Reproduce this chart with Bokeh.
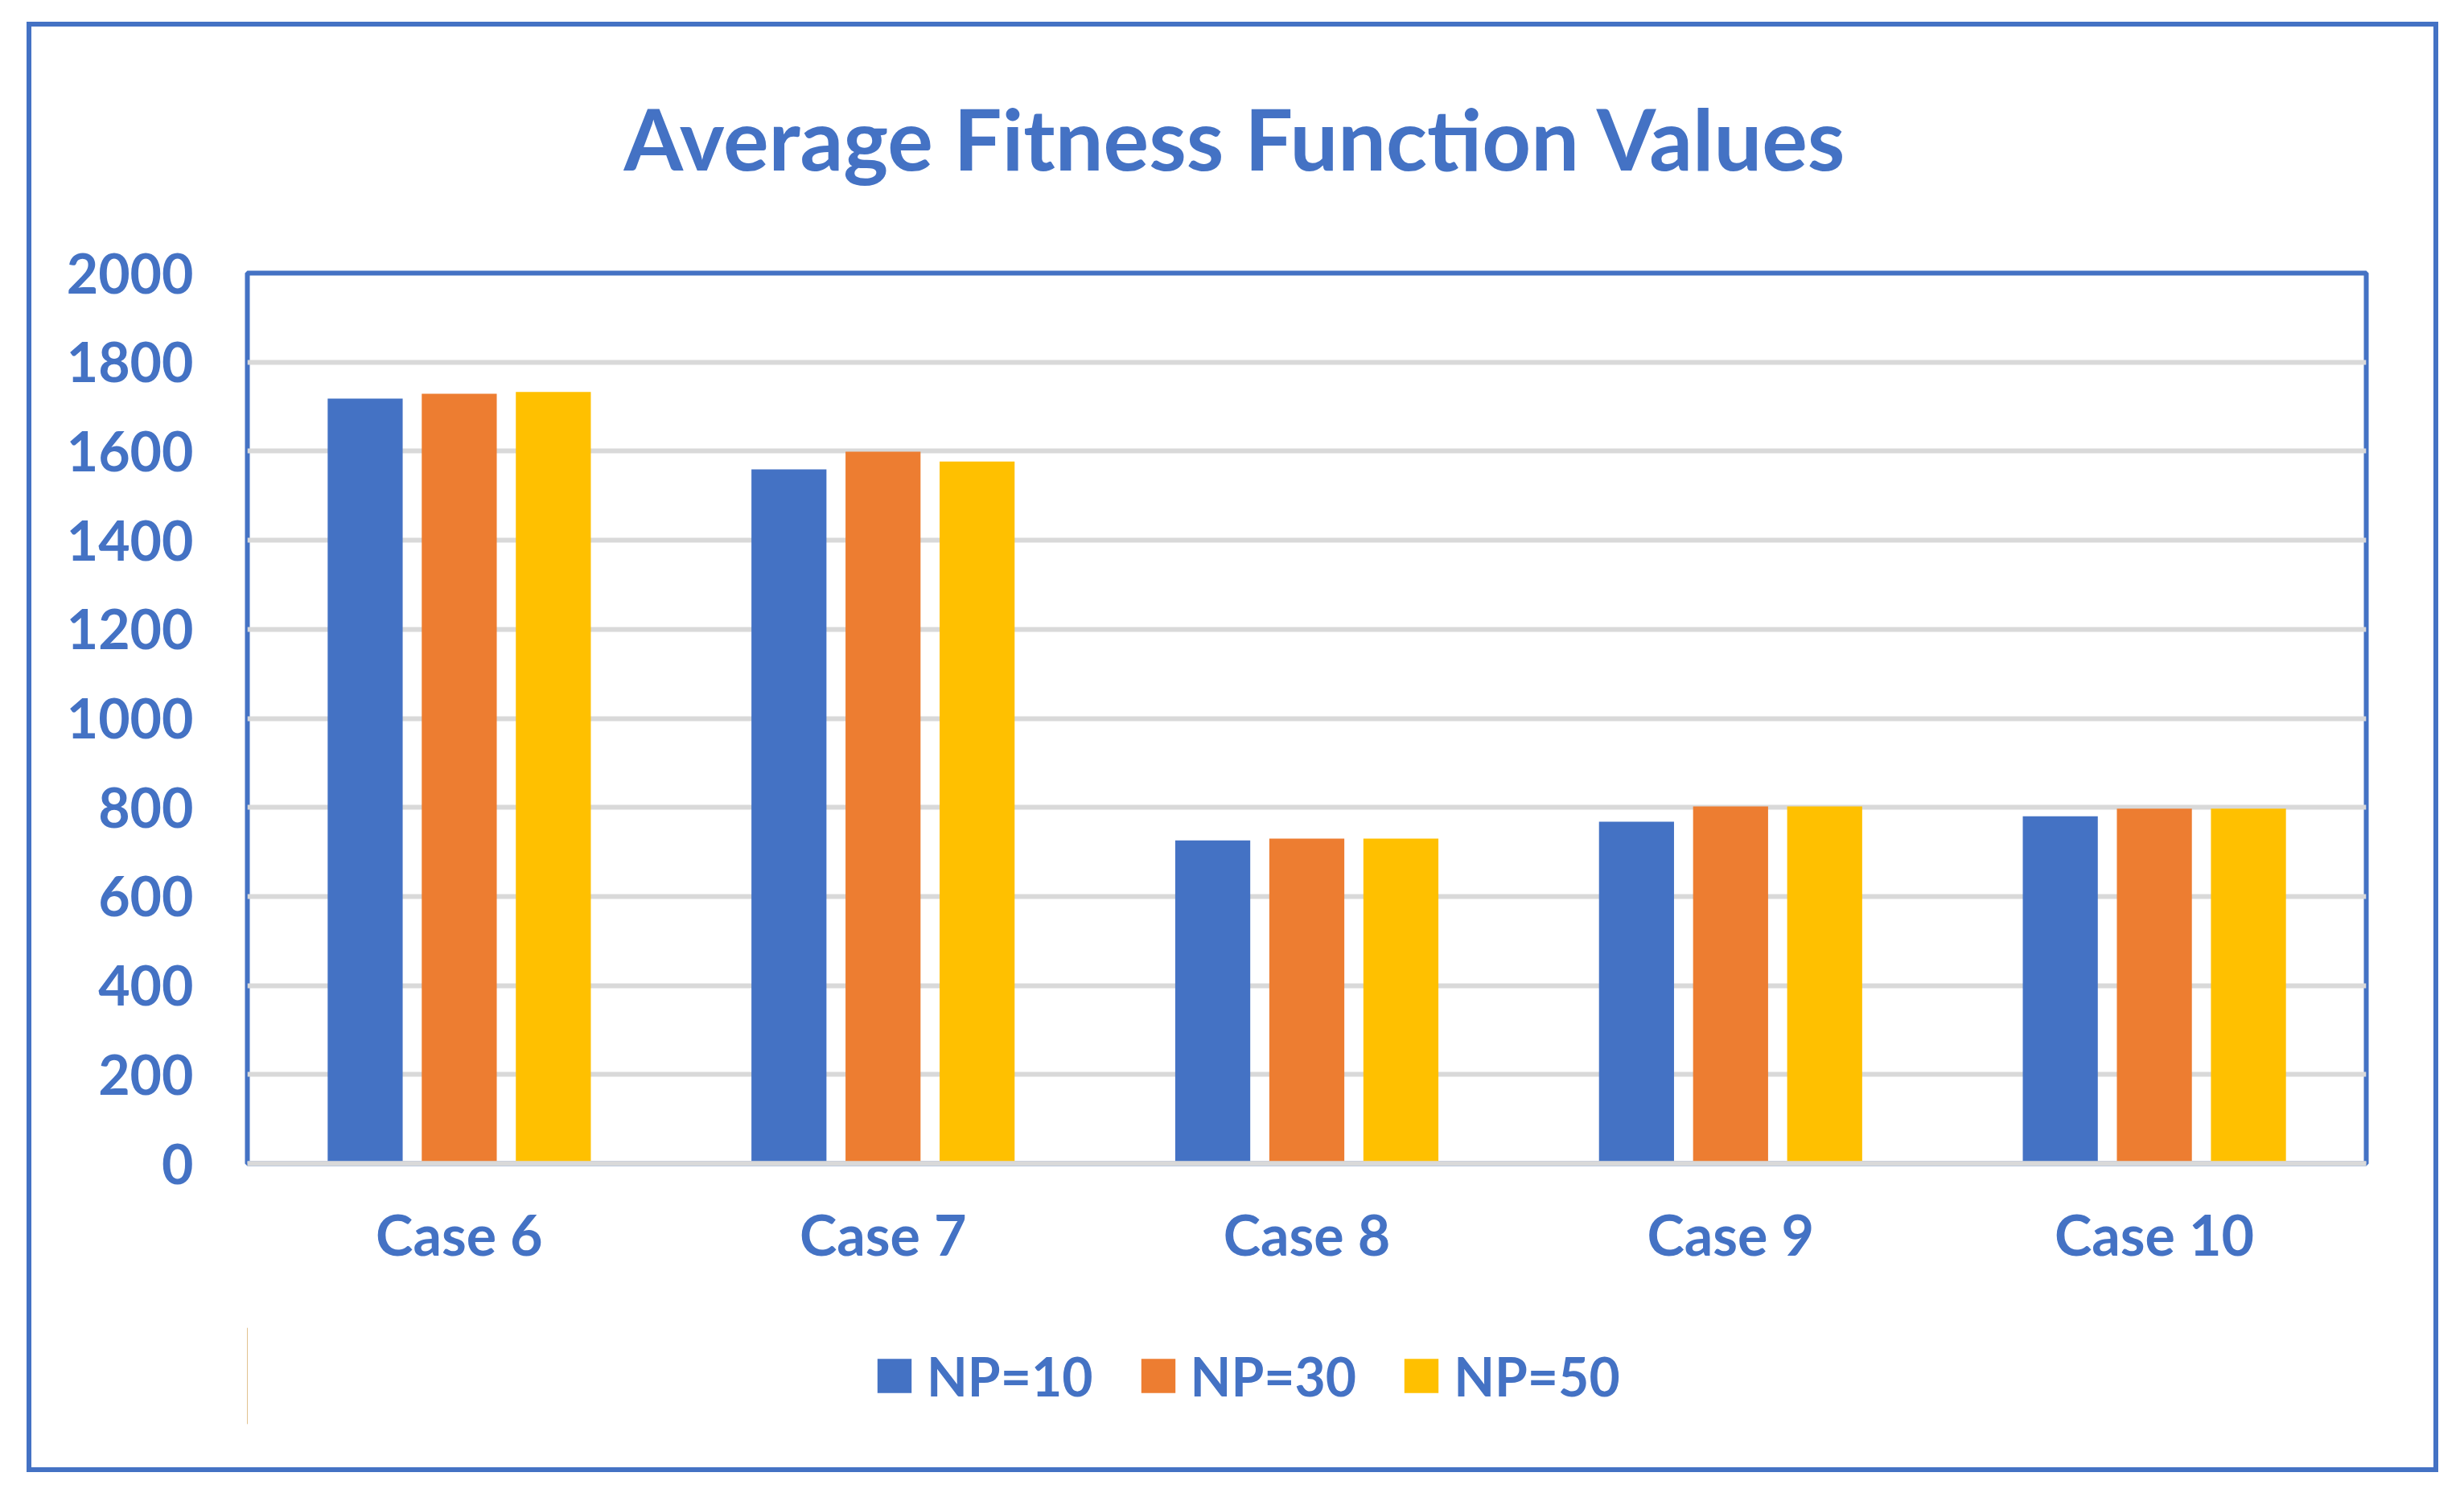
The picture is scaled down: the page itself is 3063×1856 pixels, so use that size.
from bokeh.plotting import figure
from bokeh.layouts import column
from bokeh.models import (FactorRange, Range1d, Legend, LegendItem, Span,
                          FixedTicker, ColumnDataSource)
from bokeh.transform import dodge
from bokeh.embed import file_html
from bokeh.resources import INLINE

# ---- data ----
cases = ["Case 6", "Case 7", "Case 8", "Case 9", "Case 10"]
np10 = [1718, 1559, 726, 768, 780]
np30 = [1729, 1599, 730, 802, 797]
np50 = [1733, 1577, 730, 802, 797]
series_names = ["NP=10", "NP=30", "NP=50"]
y_ticks = [0, 200, 400, 600, 800, 1000, 1200, 1400, 1600, 1800, 2000]
title_text = "Average Fitness Function Values"

BLUE = "#4472C4"
ORANGE = "#ED7D31"
YELLOW = "#FFC000"
GRID = "#D9D9D9"
FONT = "Lato"
COLORS = [BLUE, ORANGE, YELLOW]

g = "linear-gradient(%s,%s)" % (BLUE, BLUE)
outer_border = {
    "background-color": "white",
    "background-image": ", ".join([g] * 4),
    "background-repeat": "no-repeat",
    "background-position": "33px 27px, 33px 27px, 3025px 27px, 33px 1824px",
    "background-size": "6px 1803px, 2998px 6px, 6px 1803px, 2998px 6px",
}

BL, BR, FW = 307, 90, 2634

# ---------------- main chart ----------------
p = figure(x_range=FactorRange(*cases), y_range=Range1d(0, 2000),
           frame_width=FW, frame_height=1107,
           output_backend="svg", toolbar_location=None,
           min_border_left=BL, min_border_right=BR, min_border_top=337,
           min_border_bottom=150)
p.x_range.range_padding = 0
p.background_fill_color = "white"
p.border_fill_color = None
p.outline_line_color = BLUE
p.outline_line_width = 6

p.title.text = title_text
p.title.align = "left"
p.title.offset = 468
p.title.vertical_align = "bottom"
p.title.standoff = 209
p.title.text_font = FONT
p.title.text_font_size = "106px"
p.title.text_font_style = "bold"
p.title.text_color = BLUE

p.yaxis.ticker = FixedTicker(ticks=y_ticks)
p.yaxis.axis_line_color = None
p.yaxis.major_tick_line_color = None
p.yaxis.minor_tick_line_color = None
p.yaxis.major_label_text_font = FONT
p.yaxis.major_label_text_font_style = "bold"
p.yaxis.major_label_text_font_size = "68px"
p.yaxis.major_label_text_color = BLUE
p.yaxis.major_label_standoff = 61

p.xaxis.axis_line_color = GRID
p.xaxis.axis_line_width = 6
p.xaxis.major_tick_line_color = None
p.xaxis.minor_tick_line_color = None
p.xaxis.major_label_text_font = FONT
p.xaxis.major_label_text_font_style = "bold"
p.xaxis.major_label_text_font_size = "70px"
p.xaxis.major_label_text_color = BLUE
p.xaxis.major_label_standoff = 39

p.xgrid.grid_line_color = None
p.ygrid.ticker = FixedTicker(ticks=y_ticks)
p.ygrid.grid_line_color = GRID
p.ygrid.grid_line_width = 6

src = ColumnDataSource(dict(cases=cases, np10=np10, np30=np30, np50=np50))
off = 0.222
bw = 0.177
for col, dx, c in zip(["np10", "np30", "np50"], [-off, 0.0, off], COLORS):
    p.vbar(x=dodge("cases", dx, range=p.x_range), top=col, width=bw,
           source=src, fill_color=c, line_color=None)

p.add_layout(Span(location=0, dimension="width", line_color=GRID,
                  line_width=6, level="overlay"))

# ---------------- legend strip ----------------
main_h = 337 + 1107 + 150
strip_h = 1830 - main_h
leg_center_y = 1708
fh = 120
top_b = leg_center_y - fh // 2 - main_h
lp = figure(frame_width=FW, frame_height=fh, x_range=Range1d(0, 1),
            y_range=Range1d(0, 1), output_backend="svg", toolbar_location=None,
            x_axis_location=None, y_axis_location=None,
            min_border_left=BL, min_border_right=BR,
            min_border_top=top_b, min_border_bottom=strip_h - top_b - fh)
lp.grid.visible = False
lp.outline_line_color = None
lp.background_fill_color = "white"
lp.border_fill_color = None

# swatch renderers for the legend (placed outside the visible range)
items = []
for name, c in zip(series_names, COLORS):
    r = lp.vbar(x=[-10], top=[1], width=0.1, fill_color=c, line_color=None)
    items.append(LegendItem(label=name, renderers=[r]))

legend = Legend(items=items, location="center_left", orientation="horizontal",
                glyph_width=53, glyph_height=53, label_standoff=14, spacing=54,
                padding=0, margin=778, border_line_color=None,
                background_fill_alpha=0,
                label_text_font=FONT, label_text_font_style="bold",
                label_text_font_size="66px", label_text_color=BLUE)
lp.add_layout(legend)

layout = column(p, lp, styles=outer_border)

open("out.html", "w").write(file_html(layout, INLINE))
